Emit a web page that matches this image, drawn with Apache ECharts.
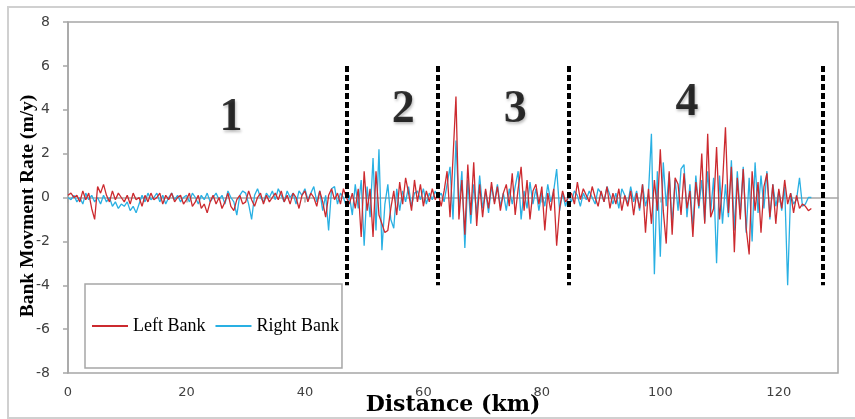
<!DOCTYPE html>
<html>
<head>
<meta charset="utf-8">
<script src="https://cdn.jsdelivr.net/npm/echarts@6/dist/echarts.min.js"></script>
<style>html,body{margin:0;padding:0;background:#fff;}#c{width:855px;height:419px;}</style>
</head>
<body>
<div id="c"></div>
<script>
// Distance sampling (km): values below are read every 0.5 km starting at 0
const startKm = 0;
const stepKm = 0.5;

// Left bank movement rate (m/y)
const leftBank = [
  0.1, 0.2, 0.0, 0.1, -0.2, 0.3, -0.1, 0.2, -0.5, -1.0,
  0.5, 0.2, 0.6, 0.1, -0.2, 0.3, -0.1, 0.2, 0.0, -0.2,
  0.1, -0.3, 0.2, -0.1, 0.0, -0.4, 0.1, -0.2, 0.2, -0.1,
  0.0, 0.2, -0.3, 0.1, -0.1, 0.2, -0.2, 0.0, 0.1, -0.3,
  -0.1, 0.2, -0.4, -0.2, 0.1, -0.5, -0.3, -0.7, -0.2, 0.1,
  -0.3, 0.0, -0.5, -0.2, 0.2, -0.4, -0.6, -0.1, 0.1, -0.3,
  -0.2, 0.3, -0.1, -0.4, 0.0, 0.2, -0.3, 0.1, -0.2, 0.0,
  0.2, -0.1, 0.3, -0.2, 0.1, -0.3, 0.2, 0.0, -0.5, 0.1,
  0.3, -0.2, 0.2, 0.0, -0.4, 0.3, -0.2, -0.9, 0.1, 0.4,
  -0.1, 0.2, -0.3, 0.4, 0.0, -0.3, 0.2, -0.5, 0.4, -1.8,
  1.2, -0.6, 0.4, -1.8, 1.2, -0.8, -1.2, -1.6, -1.5, -0.5,
  0.3, -0.8, 0.7, -0.3, 0.9, 0.2, -0.6, 0.8, -0.2, 0.6,
  -0.4, 0.3, -0.2, 0.4, -0.1, 0.2, -0.4, 0.3, 1.2, -0.9,
  1.8, 4.6, -1.0, 0.8, -1.7, 1.5, -0.8, 1.6, -1.3, 0.6,
  -0.9, 0.4, -0.5, 0.7, -0.3, 0.5, -0.6, 0.2, 0.6, -0.4,
  1.1, -0.8, 0.4, 1.4, -0.6, 0.8, -1.0, 0.3, 0.6, -0.3,
  0.5, -1.5, 0.2, -0.6, 0.4, -2.2, -0.5, 0.3, -0.2, 0.0,
  0.2, -0.3, 0.7, -0.1, 0.4, 0.1, -0.2, 0.5, 0.0, -0.4,
  0.3, -0.2, 0.5, -0.5, 0.2, -0.3, 0.4, -0.6, 0.1, -0.4,
  0.3, -0.8, 0.2, -0.5, 0.6, -1.6, 0.4, -1.2, 0.8, -0.6,
  2.2, -0.6, -2.1, 1.2, -1.7, 0.9, 0.6, -0.8, 1.1, -0.5,
  0.3, -1.8, 0.7, -0.4, 2.0, -1.2, 2.9, -0.9, -0.5, 2.3,
  -1.0, 0.6, 3.2, -0.7, 1.4, -2.5, 0.9, -1.0, 1.3, -1.4,
  -2.6, 1.2, -0.6, 0.7, -1.6, 0.5, 1.1, -0.9, 0.6, -1.2,
  0.4, -0.5, 0.8, -0.3, 0.2, -0.7, 0.1, -0.5, -0.3, -0.4,
  -0.6, -0.5
];

// Right bank movement rate (m/y)
const rightBank = [
  0.0, -0.1, 0.1, -0.2, 0.0, -0.3, 0.2, -0.1, 0.1, -0.2,
  0.0, -0.3, 0.1, -0.2, 0.0, -0.4, -0.2, -0.5, -0.3, -0.4,
  -0.2, -0.6, -0.4, -0.7, -0.3, 0.1, -0.2, 0.2, -0.1, 0.0,
  0.2, -0.2, 0.1, -0.3, 0.0, 0.2, -0.1, 0.1, -0.2, 0.0,
  0.1, -0.2, 0.2, 0.0, -0.3, 0.1, -0.1, 0.2, -0.2, 0.0,
  0.2, -0.1, 0.1, -0.3, 0.3, 0.0, -0.2, -0.8, 0.1, 0.3,
  0.2, -0.3, -1.0, 0.1, 0.4, 0.0, -0.2, 0.2, 0.0, 0.3,
  -0.1, 0.4, 0.1, -0.2, 0.3, 0.0, 0.2, -0.3, 0.3, 0.1,
  0.4, -0.1, 0.2, 0.5, -0.2, 0.3, -0.6, 0.1, -1.5, 0.4,
  0.5, -0.3, 0.2, 0.0, -0.4, 0.1, -0.8, 0.6, -0.5, 0.8,
  -2.2, 0.5, -0.9, 1.8, -1.5, 2.2, -2.4, -0.3, 0.6, -1.0,
  -1.4, 0.4, -0.6, 0.3, -0.2, 0.5, -0.4, 0.2, 0.3, -0.1,
  0.4, -0.3, 0.2, -0.1, 0.3, 0.0, 0.2, -0.2, 0.6, 1.4,
  -1.0, 2.6, -0.5, 1.2, -2.3, 0.8, -1.2, 0.6, -0.8, 1.0,
  -0.5, 0.3, -0.7, 0.5, -0.2, 0.6, -0.4, 0.2, -0.6, 0.4,
  -0.3, 0.5, 1.2, -1.0, 0.3, -0.5, 0.7, -0.3, 0.4, -0.6,
  0.2, -0.4, 0.6, -0.2, 0.3, 1.3, -0.6, 0.2, -0.4, 0.1,
  -0.2, 0.3, 0.1, -0.4, 0.2, -0.1, 0.3, 0.0, -0.3, 0.4,
  0.2, -0.2, 0.5, 0.1, -0.3, 0.2, -0.5, 0.4, 0.1, -0.3,
  0.5, -0.2, 0.3, -0.6, 0.6, -0.4, 0.2, 2.9, -3.5, 1.2,
  -2.7, 1.6, -0.4, 1.1, -1.2, 0.8, -0.6, 1.3, 1.5, -0.9,
  0.6, -1.4, 1.0, -0.5, 0.8, -1.1, 1.2, -0.7, 0.9, -3.0,
  1.0, -1.2, 0.6, -0.9, 1.7, -1.5, 1.2, -0.8, 1.4, -1.6,
  0.9, -2.0, 1.6, -0.7, 1.0, -0.5, 1.2, -1.0, 0.6, -0.4,
  0.3, -0.6, 0.5, -4.0, 0.2, -0.3, -0.1, 0.9, -0.4, -0.3,
  0.0, 0.0
];

// Reach boundaries (km) and reach labels
const boundariesKm = [47, 62.4, 84.6, 127.5];
const boundaryTop = 6;
const boundaryBottom = -4;
const reachLabels = ['1', '2', '3', '4'];
const reachLabelKm = [27.5, 56.6, 75.5, 104.5];
const reachLabelY = [3.6, 4.0, 4.0, 4.3];

const seriesNames = ['Left Bank', 'Right Bank'];
const xTitle = 'Distance (km)';
const yTitle = 'Bank Movment Rate (m/y)';

function pairs(vals) {
  return vals.map((v, i) => [startKm + i * stepKm, v]);
}

const chart = echarts.init(document.getElementById('c'), null, {renderer: 'canvas'});

const serifBold = '"Liberation Serif", "DejaVu Serif", serif';
const tickFont = '"DejaVu Sans", Verdana, sans-serif';

const option = {
  backgroundColor: '#fff',
  animation: false,
  grid: {
    left: 68, right: 17, top: 22, bottom: 46,
    show: true, borderColor: '#a6a6a6', borderWidth: 1.5
  },
  legend: {
    left: 85, top: 284,
    orient: 'horizontal',
    data: seriesNames,
    icon: 'rect',
    itemWidth: 36, itemHeight: 2,
    itemGap: 10,
    padding: [33, 3, 33, 7],
    borderColor: '#a6a6a6', borderWidth: 1.5,
    backgroundColor: '#fff',
    textStyle: {fontFamily: serifBold, fontSize: 18, color: '#000'}
  },
  xAxis: {
    type: 'value', min: 0, max: 130, interval: 20,
    axisLine: {show: true, lineStyle: {color: '#a6a6a6', width: 1.5}},
    axisTick: {show: true, length: 5, lineStyle: {color: '#a6a6a6', width: 1.5}},
    axisLabel: {
      showMaxLabel: false, margin: 13,
      color: '#404040', fontFamily: tickFont, fontSize: 13
    },
    splitLine: {show: false}
  },
  yAxis: {
    type: 'value', min: -8, max: 8, interval: 2,
    axisLine: {show: true, lineStyle: {color: '#a6a6a6', width: 1.5}},
    axisTick: {show: true, length: 5, lineStyle: {color: '#a6a6a6', width: 1.5}},
    axisLabel: {
      margin: 18,
      color: '#404040', fontFamily: tickFont, fontSize: 14
    },
    splitLine: {show: false}
  },
  series: [
    {
      name: seriesNames[0], type: 'line', data: pairs(leftBank),
      showSymbol: false, symbol: 'none',
      lineStyle: {color: '#cc2a2f', width: 1.3},
      itemStyle: {color: '#cc2a2f'},
      z: 3
    },
    {
      name: seriesNames[1], type: 'line', data: pairs(rightBank),
      showSymbol: false, symbol: 'none',
      lineStyle: {color: '#29b0e3', width: 1.3},
      itemStyle: {color: '#29b0e3'},
      z: 2,
      markLine: {
        silent: true, symbol: ['none', 'none'],
        label: {show: false},
        lineStyle: {color: '#000', width: 4, type: [6, 3]},
        data: boundariesKm.map(k => [{coord: [k, boundaryTop]}, {coord: [k, boundaryBottom]}])
      }
    },
    {
      type: 'scatter', symbolSize: 0, silent: true,
      data: reachLabels.map((t, i) => ({value: [reachLabelKm[i], reachLabelY[i]], name: t})),
      label: {
        show: true, position: 'inside',
        formatter: p => p.name,
        fontFamily: serifBold, fontWeight: 'bold', fontSize: 46, color: '#000',
        textShadowColor: 'rgba(0,0,0,0.35)', textShadowBlur: 3, textShadowOffsetX: 1, textShadowOffsetY: 2
      },
      z: 4
    }
  ],
  graphic: [
    {
      type: 'rect', shape: {x: 8, y: 7, width: 870, height: 411},
      style: {fill: 'none', stroke: '#d0d0d0', lineWidth: 2}, silent: true, z: -1
    },
    {
      type: 'text', x: 28, y: 206, rotation: Math.PI / 2,
      style: {
        text: yTitle, fontFamily: serifBold, fontWeight: 'bold', fontSize: 19.5,
        fill: '#000', textAlign: 'center', textVerticalAlign: 'middle'
      },
      z: 10
    },
    {
      type: 'text', x: 453, y: 405,
      style: {
        text: xTitle, fontFamily: '"DejaVu Serif", serif', fontWeight: 'bold', fontSize: 22,
        fill: '#000', textAlign: 'center', textVerticalAlign: 'middle'
      },
      z: 10
    }
  ]
};
chart.setOption(option);
</script>
</body>
</html>
